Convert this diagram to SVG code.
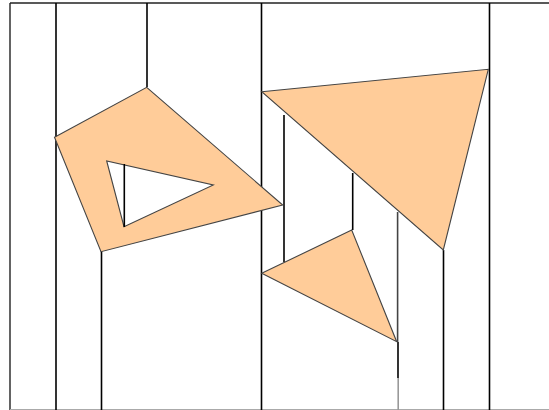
<svg xmlns="http://www.w3.org/2000/svg" width="549" height="410" viewBox="0 0 549 410">
  <style>
    .shape { fill: #FFCC99; stroke: #444; stroke-width: 1.1; stroke-linejoin: miter; }
    .v { stroke: #000; stroke-width: 1.6; fill: none; }
    .frame { stroke: #222; stroke-width: 1.4; fill: none; }
  </style>
  <rect width="549" height="410" fill="#FFFFFF"/>
  <g id="frame">
    <line class="frame" x1="10" y1="3" x2="549" y2="3"/>
    <line class="frame" x1="10" y1="3" x2="10" y2="410"/>
    <line x1="10" y1="409.5" x2="549" y2="409.5" stroke="#aaa" stroke-width="1"/>
  </g>
  <g id="connectors">
    <line class="v" x1="56" y1="3" x2="56" y2="410"/>
    <line class="v" x1="147" y1="3" x2="147" y2="87"/>
    <line class="v" x1="101.5" y1="251" x2="101.5" y2="410"/>
    <line class="v" x1="261.5" y1="3" x2="261.5" y2="410"/>
    <line class="v" x1="284" y1="115" x2="284" y2="262"/>
    <line class="v" x1="352.7" y1="173" x2="352.7" y2="230"/>
    <line x1="397.6" y1="212" x2="397.6" y2="342" stroke="#444" stroke-width="1.6"/>
    <line class="v" x1="398" y1="342" x2="398" y2="378"/>
    <line x1="398.2" y1="378" x2="398.2" y2="410" stroke="#999" stroke-width="1.6"/>
    <line class="v" x1="443.5" y1="250" x2="443.5" y2="410"/>
    <line class="v" x1="489.5" y1="3" x2="489.5" y2="410"/>
  </g>
  <g id="quad">
    <path class="shape" fill-rule="evenodd" d="M146.7,87.3 L282.7,205 L101,251.7 L54.5,137.3 Z M106.7,161 L124,226.7 L213.3,185 Z"/>
    <line class="v" x1="124.3" y1="164" x2="124.3" y2="227"/>
  </g>
  <g id="big-triangle">
    <polygon class="shape" points="261.7,91.7 488.3,69.3 443.3,250"/>
  </g>
  <g id="small-triangle">
    <polygon class="shape" points="261.7,273.3 351.7,230 396.7,341.7"/>
  </g>
</svg>
